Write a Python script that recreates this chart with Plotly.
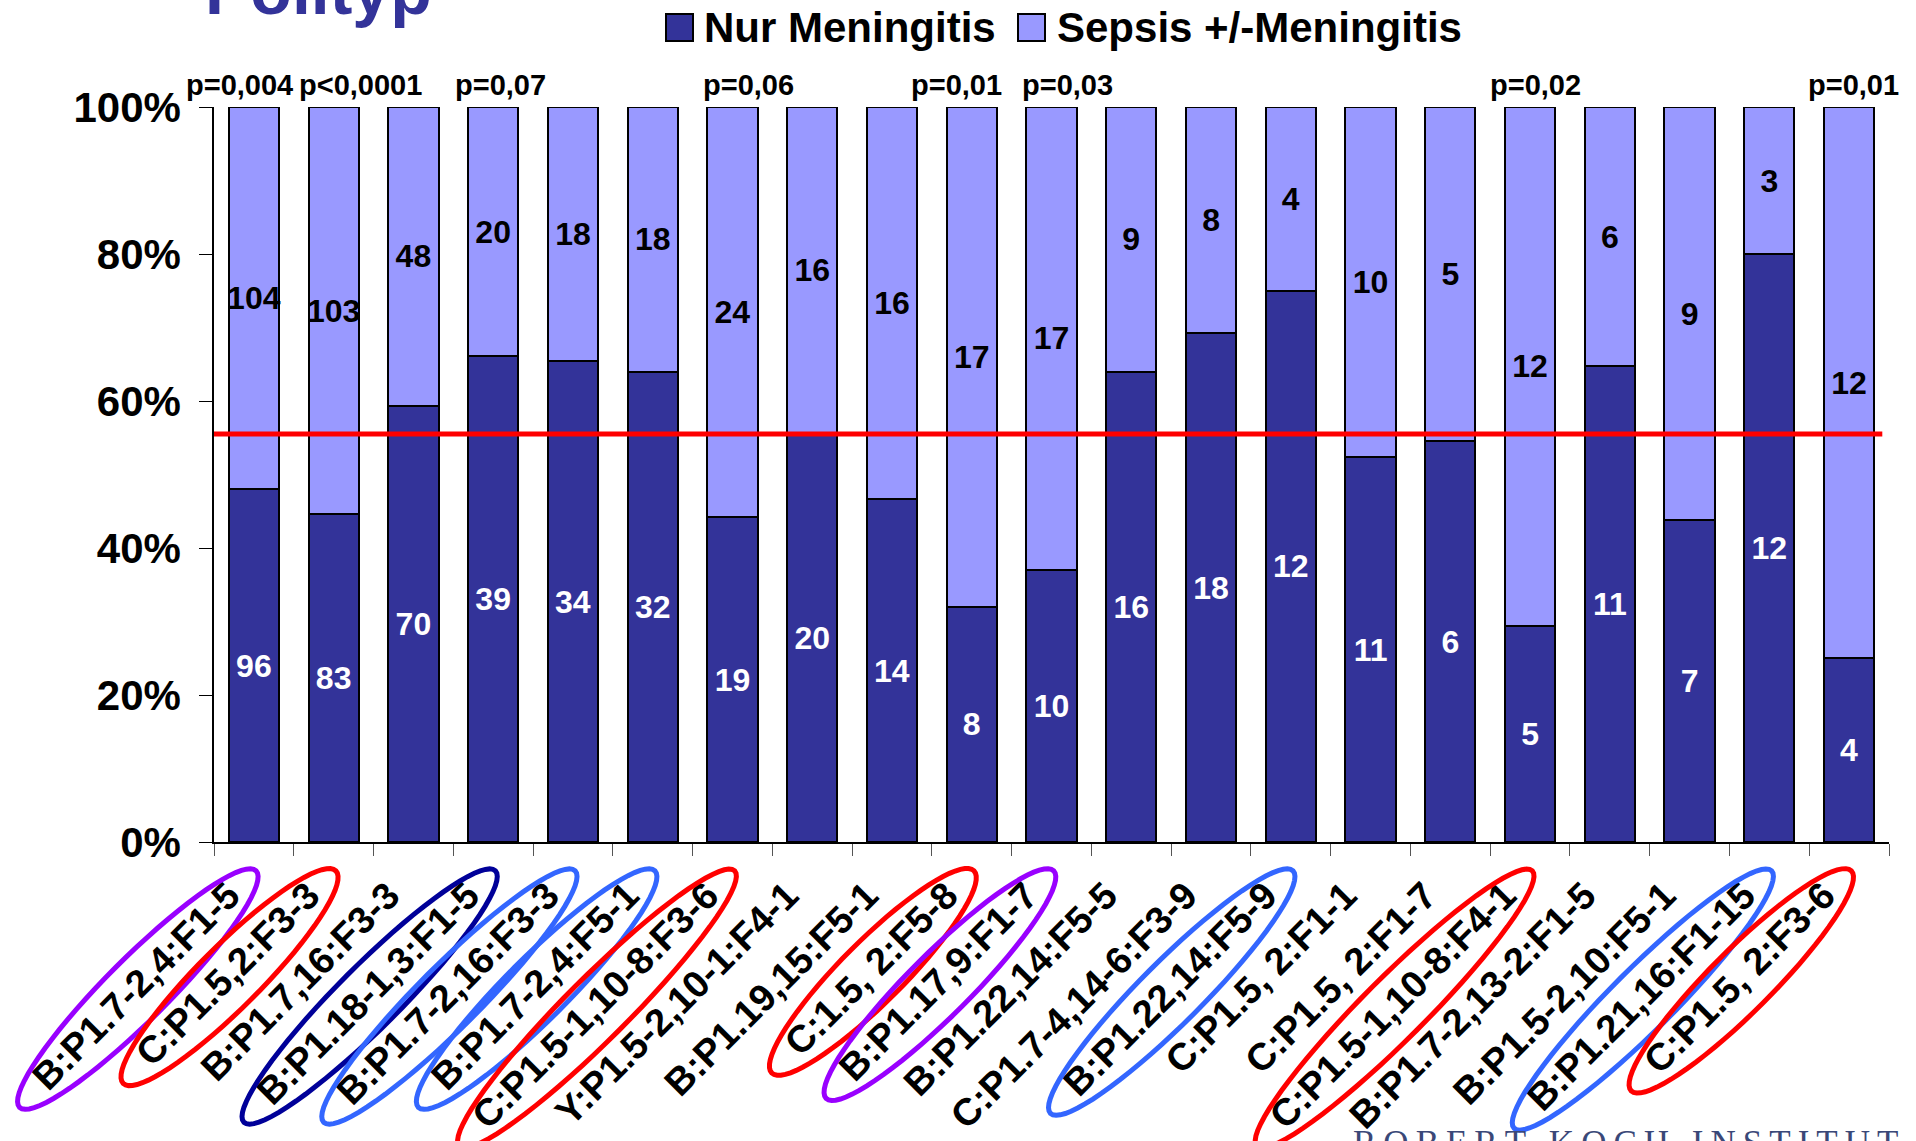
import math
import plotly.graph_objects as go

# ---- data ----------------------------------------------------------------
categories = [
    "B:P1.7-2,4:F1-5", "C:P1.5,2:F3-3", "B:P1.7,16:F3-3", "B:P1.18-1,3:F1-5",
    "B:P1.7-2,16:F3-3", "B:P1.7-2,4:F5-1", "C:P1.5-1,10-8:F3-6",
    "Y:P1.5-2,10-1:F4-1", "B:P1.19,15:F5-1", "C:1.5, 2:F5-8", "B:P1.17,9:F1-7",
    "B:P1.22,14:F5-5", "C:P1.7-4,14-6:F3-9", "B:P1.22,14:F5-9", "C:P1.5, 2:F1-1",
    "C:P1.5, 2:F1-7", "C:P1.5-1,10-8:F4-1", "B:P1.7-2,13-2:F1-5",
    "B:P1.5-2,10:F5-1", "B:P1.21,16:F1-15", "C:P1.5, 2:F3-6",
]
nur_meningitis = [96, 83, 70, 39, 34, 32, 19, 20, 14, 8, 10, 16, 18, 12, 11, 6, 5, 11, 7, 12, 4]
sepsis_meningitis = [104, 103, 48, 20, 18, 18, 24, 16, 16, 17, 17, 9, 8, 4, 10, 5, 12, 6, 9, 3, 12]
p_values = ["p=0,004", "p<0,0001", "", "p=0,07", "", "", "p=0,06", "", "", "p=0,01",
            "p=0,03", "", "", "", "", "", "p=0,02", "", "", "", "p=0,01"]
series_names = ["Nur Meningitis", "Sepsis +/-Meningitis"]
reference_share = 55.5  # percent, horizontal reference line
y_ticks = [0, 20, 40, 60, 80, 100]
y_tick_text = ["0%", "20%", "40%", "60%", "80%", "100%"]

# ---- styling ---------------------------------------------------------------
W_FIG, H_FIG = 1916, 1141
M_L, M_R, M_T, M_B = 214, 27, 107, 299
PW = W_FIG - M_L - M_R
PH = H_FIG - M_T - M_B
FONT = "Liberation Sans, Arial, Helvetica, sans-serif"
DARK = "#333399"
LIGHT = "#9999FF"
TICK_FS = 38
BAR_W = 0.63

# ringed genotype labels: index -> ring colour
rings = {0: "#9900FF", 1: "#FF0000", 3: "#000099", 4: "#3366FF", 5: "#3366FF",
         6: "#FF0000", 9: "#FF0000", 10: "#9900FF", 13: "#3366FF", 16: "#FF0000",
         19: "#3366FF", 20: "#FF0000"}
# small horizontal nudges of the p-value labels (px)
p_shift = {0: -14, 1: 27, 3: 7, 6: 16, 9: -15, 10: 16, 16: 5, 20: 4}


def px_x(px):
    return (px - M_L) / PW


def px_y(py):
    return 1 - (py - M_T) / PH


# Arial-Bold advance widths (em) for the label glyphs
_ADV = {"B": .722, "C": .722, "F": .611, "P": .667, "Y": .667, ":": .333,
        ".": .278, ",": .278, "-": .333, " ": .278}


def text_width(s, size):
    return sum(_ADV.get(ch, .556) for ch in s) * size


fig = go.Figure()
for name, vals, col, tcol in [(series_names[0], nur_meningitis, DARK, "white"),
                              (series_names[1], sepsis_meningitis, LIGHT, "black")]:
    fig.add_bar(
        x=categories, y=vals, name=name, width=BAR_W,
        marker=dict(color=col, line=dict(color="black", width=2)),
        text=vals, texttemplate="%{text}", textposition="inside",
        insidetextanchor="middle", textangle=0, constraintext="none",
        textfont=dict(family=FONT, size=32, color=tcol, weight="bold"),
        showlegend=False, hoverinfo="skip",
    )

shapes = []
annotations = []

# reference line
shapes.append(dict(type="line", xref="paper", yref="y", x0=0, x1=0.996,
                   y0=reference_share, y1=reference_share,
                   line=dict(color="#FF0000", width=5), layer="above"))

# p-values above the bars
for i, p in enumerate(p_values):
    if p:
        annotations.append(dict(
            x=categories[i], y=100, xref="x", yref="y", text=p, showarrow=False,
            yanchor="bottom", yshift=4, xshift=p_shift.get(i, 0),
            font=dict(family=FONT, size=29, color="black", weight="bold")))

# rings around selected tick labels (45 degree ellipses centred on the label)
axis_y = M_T + PH
step = PW / len(categories)
d = (-math.sqrt(0.5), math.sqrt(0.5))   # along the label, downward-left
n = (math.sqrt(0.5), math.sqrt(0.5))    # across the label
for i, col in rings.items():
    L = text_width(categories[i], TICK_FS)
    ex, ey = M_L + (i + 0.5) * step - 19, axis_y + 50
    cx, cy = ex + d[0] * L / 2, ey + d[1] * L / 2
    a, b = L / 2 + 30, 31
    pts = []
    for k in range(73):
        t = 2 * math.pi * k / 72
        px = cx + a * math.cos(t) * d[0] + b * math.sin(t) * n[0]
        py = cy + a * math.cos(t) * d[1] + b * math.sin(t) * n[1]
        pts.append(f"{px_x(px):.5f},{px_y(py):.5f}")
    shapes.append(dict(type="path", xref="paper", yref="paper",
                       path="M" + " L".join(pts) + " Z",
                       line=dict(color=col, width=5), layer="above"))

# legend: swatches + names
legend_items = [(666, 705, DARK), (1018, 1058, LIGHT)]
for (sx, tx, col), name in zip(legend_items, series_names):
    shapes.append(dict(type="rect", xref="paper", yref="paper",
                       x0=px_x(sx), x1=px_x(sx + 27), y0=px_y(41), y1=px_y(14),
                       fillcolor=col, line=dict(color="black", width=2)))
    annotations.append(dict(x=px_x(tx - 3), y=px_y(28), xref="paper", yref="paper",
                            text=name, showarrow=False, xanchor="left", yanchor="middle",
                            font=dict(family=FONT, size=42, color="black", weight="bold")))

# slide heading (cut by the top edge) and institute name (cut by bottom edge)
annotations.append(dict(x=px_x(203), y=px_y(-10), xref="paper", yref="paper",
                        text="Polityp", showarrow=False, xanchor="left", yanchor="middle",
                        font=dict(family=FONT, size=68, color="#333399", weight="bold")))
annotations.append(dict(x=px_x(1625), y=px_y(1143), xref="paper", yref="paper",
                        text="\u2009".join("ROBERT KOCH INSTITUT"), showarrow=False,
                        xanchor="center", yanchor="middle",
                        font=dict(family="Liberation Serif, Times New Roman, serif",
                                  size=35, color="#3A4878")))

fig.update_layout(
    width=W_FIG, height=H_FIG,
    margin=dict(l=M_L, r=M_R, t=M_T, b=M_B, autoexpand=False),
    barmode="stack", barnorm="percent",
    plot_bgcolor="white", paper_bgcolor="white",
    uniformtext=dict(minsize=30, mode="show"),
    shapes=shapes, annotations=annotations, showlegend=False,
    xaxis=dict(
        type="category", range=[-0.5, len(categories) - 0.5],
        showgrid=False, zeroline=False, automargin=False,
        showline=True, linecolor="black", linewidth=2,
        ticks="outside", tickson="boundaries", ticklen=12, tickcolor="#555555",
        tickangle=-45, ticklabelstandoff=14, ticklabelshift=-25,
        tickfont=dict(family=FONT, size=TICK_FS, color="black", weight="bold"),
    ),
    yaxis=dict(
        range=[0, 100], tickmode="array", tickvals=y_ticks, ticktext=y_tick_text,
        showgrid=False, zeroline=False,
        automargin=False, showline=True, linecolor="black", linewidth=1.5,
        ticks="outside", ticklen=13, tickcolor="black", ticklabelstandoff=10,
        tickfont=dict(family=FONT, size=42, color="black", weight="bold"),
    ),
)

fig.write_html("out.html")
